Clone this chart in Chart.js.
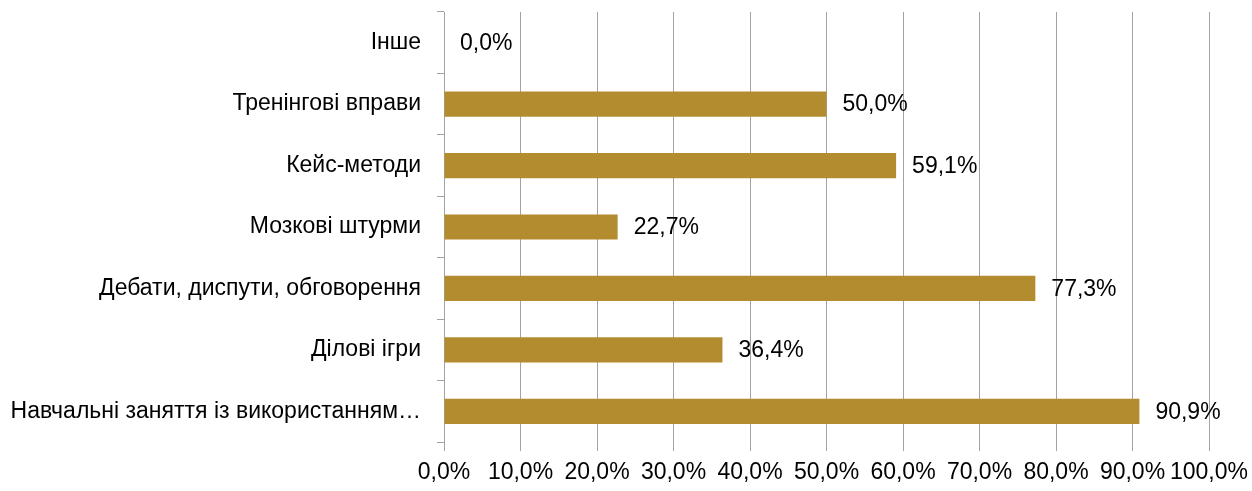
<!DOCTYPE html>
<html>
<head>
<meta charset="utf-8">
<script src="https://cdn.jsdelivr.net/npm/chart.js@4/dist/chart.umd.min.js"></script>
<style>
  html, body { margin: 0; padding: 0; background: #fff; }
  #wrap { width: 1252px; height: 491px; }
</style>
</head>
<body>
<div id="wrap"><canvas id="chart" width="1252" height="491"></canvas></div>
<script>
const categories = [
  "Інше",
  "Тренінгові вправи",
  "Кейс-методи",
  "Мозкові штурми",
  "Дебати, диспути, обговорення",
  "Ділові ігри",
  "Навчальні заняття із використанням…",
];
const shares = [0.0, 50.0, 59.1, 22.7, 77.3, 36.4, 90.9];
const tickLabels = ["0,0%", "10,0%", "20,0%", "30,0%", "40,0%", "50,0%", "60,0%", "70,0%", "80,0%", "90,0%", "100,0%"];

const barColor = "#b38c30";
const lineColor = "#a3a3a3";
const fontFamily = "'Liberation Sans', Arial, sans-serif";
const fontSize = 23;

// value labels to the right of each bar, like "50,0%"
const valueLabels = {
  id: "valueLabels",
  afterDatasetsDraw(chart) {
    const ctx = chart.ctx;
    const meta = chart.getDatasetMeta(0);
    ctx.save();
    ctx.font = fontSize + "px " + fontFamily;
    ctx.fillStyle = "#000";
    ctx.textAlign = "left";
    ctx.textBaseline = "middle";
    meta.data.forEach((bar, i) => {
      const text = shares[i].toFixed(1).replace(".", ",") + "%";
      ctx.fillText(text, bar.x + 16, bar.y + 1);
    });
    ctx.restore();
  },
};

new Chart(document.getElementById("chart"), {
  type: "bar",
  data: {
    labels: categories,
    datasets: [
      {
        data: shares,
        backgroundColor: barColor,
        borderWidth: 0,
        barPercentage: 0.82,
        categoryPercentage: 0.5,
      },
    ],
  },
  options: {
    indexAxis: "y",
    responsive: false,
    animation: false,
    layout: { padding: { top: 12, right: 43, left: 0, bottom: 0 } },
    plugins: {
      legend: { display: false },
      tooltip: { enabled: false },
    },
    scales: {
      x: {
        min: 0,
        max: 100,
        afterFit(scale) {
          scale.height = 49;
          scale.paddingLeft = 0;
          scale.paddingRight = 0;
        },
        afterBuildTicks(scale) {
          scale.ticks = tickLabels.map((_, i) => ({ value: i * 10 }));
        },
        ticks: {
          color: "#000",
          font: { family: fontFamily, size: fontSize },
          padding: 8,
          maxRotation: 0,
          autoSkip: false,
          callback: (v, i) => tickLabels[i],
        },
        grid: { color: lineColor, lineWidth: 1, drawTicks: true, tickLength: 9 },
        border: { display: false },
      },
      y: {
        afterFit(scale) {
          scale.width = 444;
          scale.paddingTop = 0;
          scale.paddingBottom = 0;
        },
        ticks: {
          color: "#000",
          font: { family: fontFamily, size: fontSize },
          padding: 16,
        },
        grid: {
          color: lineColor,
          drawOnChartArea: false,
          drawTicks: true,
          tickLength: 7,
          offset: true,
        },
        border: { display: true, color: lineColor, width: 1 },
      },
    },
  },
  plugins: [valueLabels],
});
</script>
</body>
</html>
